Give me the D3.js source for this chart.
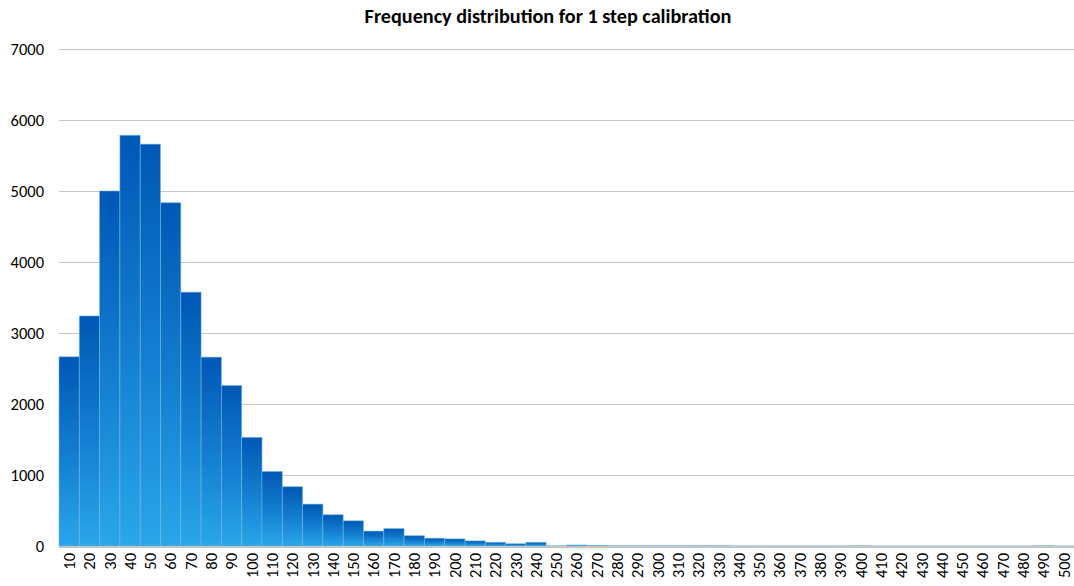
<!DOCTYPE html>
<html>
<head>
<meta charset="utf-8">
<script src="https://cdn.jsdelivr.net/npm/d3@7"></script>
<style>
  html, body { margin: 0; padding: 0; background: #fff; }
  svg { display: block; font-family: Carlito, Lato, "Liberation Sans", sans-serif; }
</style>
</head>
<body>
<svg id="chart" width="1074" height="586"></svg>
<script>
// Bin upper edges (step calibration error bins)
const bins = d3.range(10, 501, 10).map(String);

// Count of samples in each bin
const counts = [
  2665, 3240, 5000, 5785, 5660, 4835, 3575, 2660, 2260, 1530,
  1050, 835, 590, 440, 355, 210, 245, 145, 110, 100,
  72, 52, 32, 52, 3, 14, 8, 3, 3, 3,
  3, 4, 4, 2, 2, 2, 2, 2, 2, 3,
  1, 1, 1, 1, 1, 1, 1, 1, 3, 1
];

const yTicks = [0, 1000, 2000, 3000, 4000, 5000, 6000, 7000];
const title = "Frequency distribution for 1 step calibration";

const svg = d3.select("#chart");
const margin = { top: 49, right: 0, bottom: 40, left: 59 };
const W = 1074, H = 586;
const innerW = W - margin.left - margin.right;
const innerH = 546 - margin.top;
const labelFont = "Carlito, Lato, 'Liberation Sans', sans-serif";

const x = d3.scaleBand().domain(bins).range([margin.left, margin.left + innerW]).padding(0);
const y = d3.scaleLinear().domain([0, 7000]).range([margin.top + innerH, margin.top]);

// Vertical gradient per bar: dark blue at the top fading to light blue at the base
const defs = svg.append("defs");
const grad = defs.append("linearGradient")
  .attr("id", "barGrad")
  .attr("x1", 0).attr("y1", 0).attr("x2", 0).attr("y2", 1);
grad.append("stop").attr("offset", "0%").attr("stop-color", "#0058b4");
grad.append("stop").attr("offset", "55%").attr("stop-color", "#1580d2");
grad.append("stop").attr("offset", "100%").attr("stop-color", "#2aa6e9");

// Title
svg.append("text")
  .attr("x", 548).attr("y", 23)
  .attr("text-anchor", "middle")
  .attr("font-size", 20.2)
  .attr("font-weight", "bold")
  .attr("fill", "#000")
  .text(title);

// Horizontal grid lines
svg.append("g")
  .selectAll("line")
  .data(yTicks.filter(d => d > 0))
  .join("line")
  .attr("x1", margin.left).attr("x2", W)
  .attr("y1", d => Math.round(y(d)) + 0.5).attr("y2", d => Math.round(y(d)) + 0.5)
  .attr("stroke", "#c6c6c6").attr("stroke-width", 1.2);

// Y axis labels
const yAxis = d3.axisLeft(y).tickValues(yTicks).tickFormat(d3.format("d")).tickSize(0).tickPadding(15);
const yg = svg.append("g").attr("transform", `translate(${margin.left},0)`).call(yAxis);
yg.select(".domain").remove();
yg.selectAll("text").attr("font-size", 16.5).attr("fill", "#000")
  .attr("font-family", labelFont);

// Bars
svg.append("g")
  .selectAll("rect")
  .data(counts)
  .join("rect")
  .attr("x", (d, i) => x(bins[i]))
  .attr("width", x.bandwidth())
  .attr("y", d => y(d))
  .attr("height", d => y(0) - y(d))
  .attr("fill", "url(#barGrad)")
  .attr("stroke", "#6cb6ea")
  .attr("stroke-opacity", 0.7)
  .attr("stroke-width", 0.8);

// Baseline
svg.append("line")
  .attr("x1", margin.left).attr("x2", W)
  .attr("y1", y(0) + 1).attr("y2", y(0) + 1)
  .attr("stroke", "#c4c4c4").attr("stroke-width", 2);

// X axis labels, rotated to read bottom-to-top
const xAxis = d3.axisBottom(x).tickSize(0).tickPadding(0);
const xg = svg.append("g").attr("transform", `translate(0,${y(0) + 7})`).call(xAxis);
xg.select(".domain").remove();
xg.selectAll("text")
  .attr("font-size", 16.5)
  .attr("fill", "#000")
  .attr("font-family", labelFont)
  .attr("text-anchor", "end")
  .attr("dy", "0.35em")
  .attr("transform", "rotate(-90)")
  .attr("x", 0)
  .attr("y", 0);
</script>
</body>
</html>
